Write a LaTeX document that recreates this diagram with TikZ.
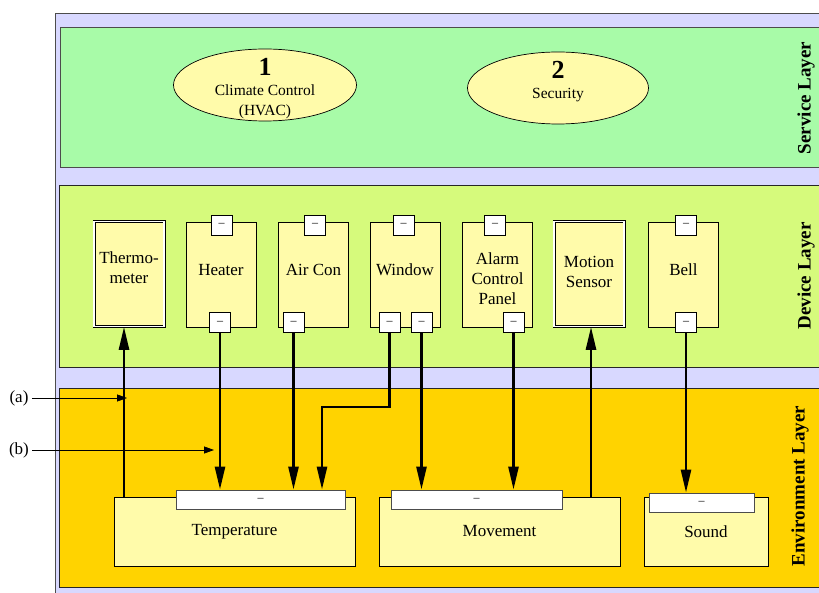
\documentclass[tikz,border=0pt]{standalone}
\usepackage{fontspec}
\setmainfont{Liberation Serif}
\usetikzlibrary{arrows.meta, shapes.geometric}

\definecolor{outerbg}{HTML}{D8D8FF}
\definecolor{servicebg}{HTML}{A8FBA8}
\definecolor{devicebg}{HTML}{D6FA7C}
\definecolor{envbg}{HTML}{FFD300}
\definecolor{boxbg}{HTML}{FFFBAA}

\begin{document}
\begin{tikzpicture}[
  x=1pt, y=-1pt,
  layer/.style={draw=black!70, line width=0.9pt, anchor=north west, inner sep=0pt},
  layername/.style={rotate=90, font=\bfseries\fontsize{19}{20}\selectfont},
  service/.style={ellipse, draw, fill=boxbg, line width=0.7pt, inner sep=0pt},
  device/.style={draw, fill=boxbg, line width=0.8pt, minimum width=70pt,
    minimum height=105pt, inner sep=1pt, align=center,
    font=\fontsize{17}{20}\selectfont},
  sensor/.style={device, double, double distance=1.6pt, line width=0.7pt},
  port/.style={draw, fill=white, line width=0.7pt, minimum width=21pt,
    minimum height=20pt, inner sep=0pt, font=\fontsize{12}{12}\selectfont},
  envbox/.style={draw, fill=boxbg, line width=1pt, minimum width=241pt,
    minimum height=69pt, inner sep=0pt, font=\fontsize{17}{20}\selectfont},
  envport/.style={draw=black!70, fill=white, line width=0.8pt,
    minimum height=19pt, inner sep=0pt, font=\fontsize{12}{12}\selectfont},
  flow/.style={-{Triangle[length=23pt, width=10pt]}, line width=2.6pt},
  note/.style={-{Triangle[length=10pt, width=7pt]}, line width=0.8pt},
]

\useasboundingbox (0,0) rectangle (819,593);
\clip (0,0) rectangle (819,593);

% background and the three layers
\node[layer, fill=outerbg, minimum width=800pt, minimum height=600pt] (frame) at (55,13) {};
\node[layer, fill=servicebg, minimum width=780pt, minimum height=140pt] (servL) at (60,27) {};
\node[layer, draw=black!85, fill=devicebg, minimum width=780pt, minimum height=182pt] (devL) at (59,185) {};
\node[layer, draw=black!85, fill=envbg, minimum width=780pt, minimum height=199pt] (envL) at (59,388) {};

\node[layername] (servName) at (806,98)  {Service Layer};
\node[layername] (devName)  at (806,276) {Device Layer};
\node[layername] (envName)  at (800,486) {Environment Layer};

% services
\node[service, minimum width=183pt, minimum height=72pt] (hvac) at (265,85) {};
\node[align=center, font=\fontsize{15.5}{20}\selectfont] (hvacText) at (265,89)
  {{\bfseries\fontsize{26}{20}\selectfont 1}\\Climate Control\\(HVAC)};
\node[service, minimum width=181pt, minimum height=72pt] (sec) at (558,88) {};
\node[align=center, font=\fontsize{15.5}{20}\selectfont] (secText) at (558,82)
  {{\bfseries\fontsize{26}{20}\selectfont 2}\\Security};

% devices
\node[sensor, text depth=12pt] (thermo) at (129,274)   {Thermo-\\meter};
\node[device, text depth=9pt] (heater) at (221,274.5) {Heater};
\node[device, text depth=9pt] (aircon) at (313.5,274.5) {Air Con};
\node[device, text depth=9pt] (window) at (405,274.5) {Window};
\node[device, text height=60pt] (alarm)  at (497.5,274.5) {Alarm\\Control\\Panel};
\node[sensor, text depth=4pt] (motion) at (589,274)   {Motion\\Sensor};
\node[device, text depth=9pt] (bell)   at (683.5,274.5) {Bell};

% device ports (top / bottom)
\node[port] (heatIn)   at (221.5,225) {–};
\node[port] (heatOut)  at (220,322.5) {–};
\node[port] (acIn)     at (315,225)   {–};
\node[port] (acOut)    at (293.5,322.5) {–};
\node[port] (winIn)    at (403.5,225) {–};
\node[port] (winOutA)  at (389.5,322.5) {–};
\node[port] (winOutB)  at (421.5,322.5) {–};
\node[port] (alarmIn)  at (495,225)   {–};
\node[port] (alarmOut) at (513.5,322.5) {–};
\node[port] (bellIn)   at (686,225)   {–};
\node[port] (bellOut)  at (686,322.5) {–};

% environment
\node[envbox] (temp)  at (234.5,531.5) {Temperature};
\node[envbox] (move)  at (499.5,531.5) {Movement};
\node[envbox, minimum width=124pt] (sound) at (706,531.5) {Sound};
\node[envport, minimum width=169pt] (tempPort)  at (260.5,499.5) {–};
\node[envport, minimum width=171pt] (movePort)  at (476.5,499.5) {–};
\node[envport, minimum width=105pt] (soundPort) at (701.5,502.5) {–};

% annotations
\node[font=\fontsize{17}{20}\selectfont] (a) at (19,398) {(a)};
\node[font=\fontsize{17}{20}\selectfont] (b) at (19,450) {(b)};
\coordinate (aEnd) at (127,398);
\coordinate (bEnd) at (214,450);
\draw[note] (a) -- (aEnd);
\draw[note] (b) -- (bEnd);

% sensing (environment -> device)
\coordinate (thermoIn) at ([xshift=-5pt]thermo.south);
\coordinate (motionIn) at ([xshift=2pt]motion.south);
\draw[flow] (thermoIn |- temp.north) -- (thermoIn);
\draw[flow] (motionIn |- move.north) -- (motionIn);

% actuation (device -> environment)
\draw[flow] (heatOut.south) -- (heatOut.south |- tempPort.north);
\draw[flow] (acOut.south) -- (acOut.south |- tempPort.north);
\coordinate (winBend) at (322,407);
\draw[flow] (winOutA.south) |- (winBend) -- (winBend |- tempPort.north);
\draw[flow] (winOutB.south) -- (winOutB.south |- movePort.north);
\draw[flow] (alarmOut.south) -- (alarmOut.south |- movePort.north);
\draw[flow] (bellOut.south) -- (bellOut.south |- soundPort.north);

\end{tikzpicture}
\end{document}
